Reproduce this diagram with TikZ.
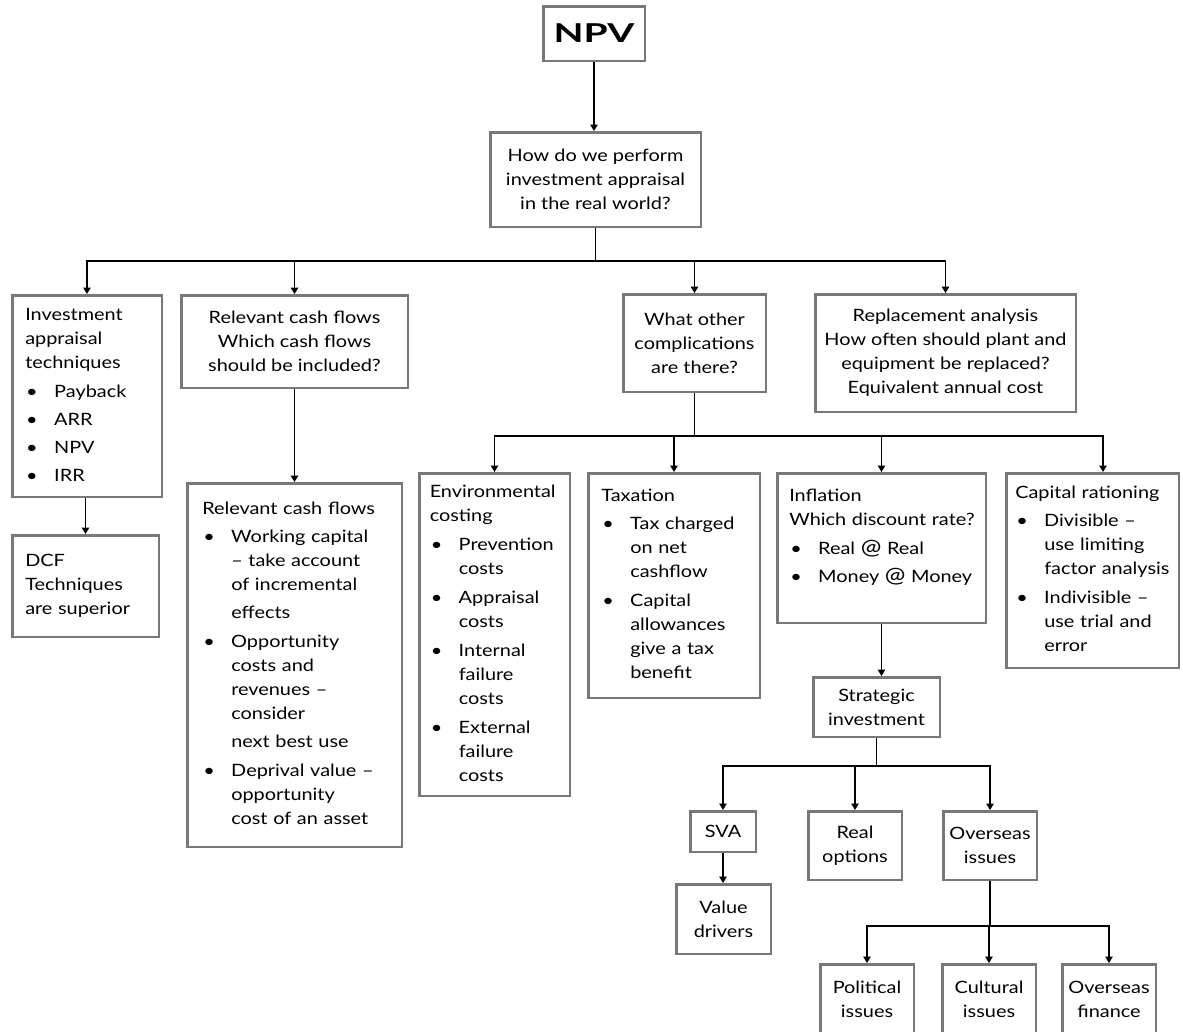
\documentclass[tikz,border=0pt]{standalone}
\usepackage{fontspec}
\setmainfont{Lato}[FakeStretch=1.17]
\newfontfamily\titlefont{Lato}[FakeStretch=1.5]
\usetikzlibrary{arrows.meta}
\setlength\parindent{0pt}
\setlength\lineskip{0pt}
\definecolor{boxgray}{RGB}{120,120,120}
% stacked lines that never wrap
\newcommand\lines[1]{\begin{tabular}[t]{@{}l@{}}#1\end{tabular}}
% bullet item with hanging lines
\newcommand\bl[1]{\par\vspace{4pt}\noindent\makebox[29pt][l]{\hspace{1pt}\textbullet}\lines{#1}}
\newcommand\atsign{{\fontsize{21}{24}\selectfont @}}
\begin{document}
\begin{tikzpicture}[x=1pt,y=-1pt,
  every node/.style={font=\fontsize{17}{24}\selectfont},
  cbox/.style={draw=boxgray, line width=2.5pt, align=center, inner sep=2pt},
  lbox/.style={draw=boxgray, line width=2.5pt, inner ysep=2pt, inner xsep=#1},
  lbox/.default=13pt,
  conn/.style={line width=1.3pt, -{Triangle[length=6.5pt,width=7.5pt]}}]
\useasboundingbox (0,0) rectangle (1183,1031);
\fill[white] (0,0) rectangle (1183,1031);
\clip (0,0) rectangle (1183,1031);

% top level
\node[cbox, minimum width=101.5pt, minimum height=54.5pt,
      font=\titlefont\fontsize{26}{30}\selectfont\bfseries] (npv) at (594,33.5) {NPV};
\node[cbox, minimum width=210.5pt, minimum height=94.5pt] (how) at (595.5,179.5)
  {How do we perform\\investment appraisal\\in the real world?};

% second level
\node[lbox, minimum width=149.5pt, minimum height=201.5pt, text width=123.5pt] (inv) at (87,396)
  {\lines{Investment\\appraisal\\techniques}\bl{Payback}\bl{ARR}\bl{NPV}\bl{IRR}};
\node[cbox, minimum width=226.5pt, minimum height=92.5pt] (rel) at (294.5,341.5)
  {Relevant cash flows\\Which cash flows\\should be included?};
\node[cbox, minimum width=142.5pt, minimum height=97.5pt] (what) at (694.5,343)
  {What other\\complications\\are there?};
\node[cbox, minimum width=260.5pt, minimum height=117.5pt] (rep) at (945.5,353)
  {Replacement analysis\\How often should plant and\\equipment be replaced?\\Equivalent annual cost};

% below the second level
\node[lbox, minimum width=146.5pt, minimum height=101.5pt, text width=120.5pt] (dcf) at (85.5,586)
  {\lines{DCF\\Techniques\\are superior}};
\node[lbox=15pt, minimum width=214.5pt, minimum height=363.5pt, text width=184.5pt] (rel2) at (294.5,665)
  {\lines{Relevant cash flows}%
   \bl{Working capital\\– take account\\of incremental\\[4pt]effects}%
   \bl{Opportunity\\costs and\\revenues –\\consider\\[4pt]next best use}%
   \bl{Deprival value –\\opportunity\\cost of an asset}};

% complications
\node[lbox=10.5pt, minimum width=150.5pt, minimum height=322.5pt, text width=129.5pt] (env) at (494.5,634.5)
  {\lines{Environmental\\costing}\bl{Prevention\\costs}\bl{Appraisal\\costs}%
   \bl{Internal\\failure\\costs}\bl{External\\failure\\costs}};
\node[lbox=13pt, minimum width=171.5pt, minimum height=224.5pt, text width=145.5pt] (tax) at (674,585.5)
  {\lines{Taxation}\bl{Tax charged\\on net\\cashflow}\bl{Capital\\allowances\\give a tax\\benefit}};
\node[lbox=12pt, minimum width=208.5pt, minimum height=149.5pt, text width=184.5pt] (infl) at (881.5,548)
  {\lines{Inflation\\Which discount rate?}\bl{Real \atsign{} Real}\bl{Money \atsign{} Money}%
   \par\noindent\rule{0pt}{20pt}};
\node[lbox=9pt, minimum width=172.5pt, minimum height=194.5pt, text width=154.5pt] (cap) at (1092.5,570.5)
  {\lines{Capital rationing}\bl{Divisible –\\use limiting\\factor analysis}\bl{Indivisible –\\use trial and\\error}};

% strategic investment branch
\node[cbox, minimum width=126.5pt, minimum height=59.5pt] (strat) at (876.5,707) {Strategic\\investment};
\node[cbox, minimum width=65.5pt, minimum height=40.5pt] (sva) at (723,831.5) {SVA};
\node[cbox, minimum width=93.5pt, minimum height=68.5pt] (real) at (855,845.5) {Real\\options};
\node[cbox, minimum width=93.5pt, minimum height=68.5pt] (ovs) at (990,845.5) {Overseas\\issues};
\node[cbox, minimum width=94.5pt, minimum height=69.5pt] (vd) at (723.5,919) {Value\\drivers};
\node[cbox, minimum width=93.5pt, minimum height=69.5pt] (pol) at (867,999) {Political\\issues};
\node[cbox, minimum width=93.5pt, minimum height=69.5pt] (cul) at (989,999) {Cultural\\issues};
\node[cbox, minimum width=93.5pt, minimum height=69.5pt] (fin) at (1109,999) {Overseas\\finance};

% bus lines
\coordinate (b1) at (0,261);
\coordinate (b2) at (0,436);
\coordinate (b3) at (0,766);
\coordinate (b4) at (0,926);
\coordinate (capin) at ([xshift=10.5pt]cap.north);

% connectors
\draw[conn] (npv.south) -- (npv.south |- how.north);
\foreach \t in {inv,rel,what,rep}
  \draw[conn] (how.south) |- (b1 -| \t.north) -- (\t.north);
\draw[conn] (dcf.north |- inv.south) -- (dcf.north);
\draw[conn] (rel.south) -- (rel2.north);
\foreach \t in {env,tax,infl}
  \draw[conn] (what.south) |- (b2 -| \t.north) -- (\t.north);
\draw[conn] (what.south) |- (b2 -| capin) -- (capin);
\draw[conn] (infl.south) -- (infl.south |- strat.north);
\foreach \t in {sva,real,ovs}
  \draw[conn] (strat.south) |- (b3 -| \t.north) -- (\t.north);
\draw[conn] (sva.south) -- (sva.south |- vd.north);
\foreach \t in {pol,cul,fin}
  \draw[conn] (ovs.south) |- (b4 -| \t.north) -- (\t.north);
\end{tikzpicture}
\end{document}
